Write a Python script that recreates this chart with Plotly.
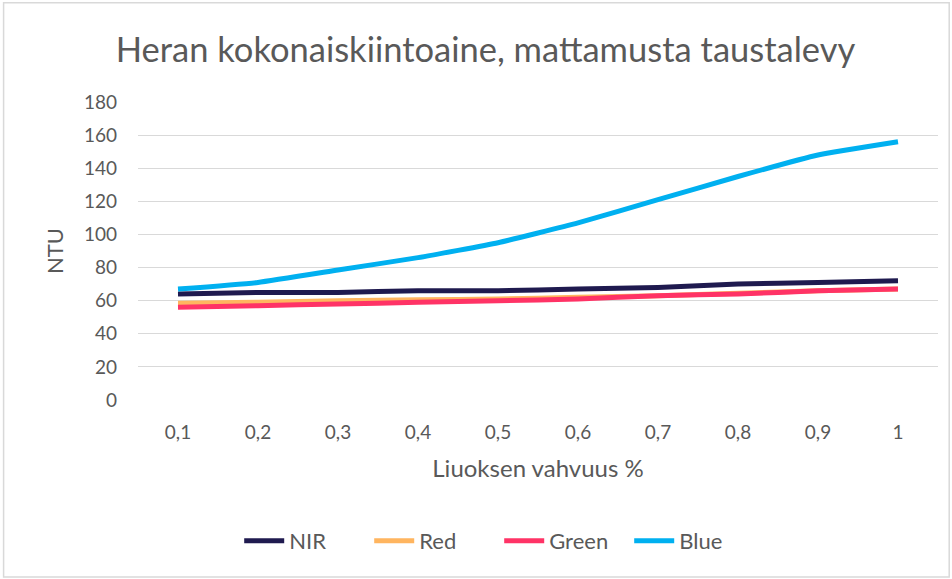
import plotly.graph_objects as go

concentrations = ["0,1", "0,2", "0,3", "0,4", "0,5", "0,6", "0,7", "0,8", "0,9", "1"]
nir = [64, 65, 65, 66, 66, 67, 68, 70, 71, 72]
red = [58.5, 59, 60, 60.5, 61, 62, 63, 64.5, 66, 67]
green = [56, 57, 58, 59, 60, 61, 63, 64, 66, 67]
blue = [67, 71, 78.5, 86, 95, 107, 121, 135, 148, 156]

series = [
    ("NIR", nir, "#1F1A4F"),
    ("Red", red, "#FFB55F"),
    ("Green", green, "#FF3366"),
    ("Blue", blue, "#00B0F0"),
]

fig = go.Figure()
for name, vals, color in series:
    fig.add_trace(go.Scatter(
        x=concentrations, y=vals, name=name, mode="lines",
        line=dict(color=color, width=5, shape="spline", smoothing=0.4),
    ))

# plot area: x 138..938, y 102..400
fig.update_layout(
    width=952, height=579,
    paper_bgcolor="#ffffff", plot_bgcolor="#ffffff",
    margin=dict(l=138, r=14, t=102, b=179),
    font=dict(family="Lato, Open Sans, sans-serif", size=19, color="#595959"),
    title=dict(text="Heran kokonaiskiintoaine, mattamusta taustalevy",
               x=0.51, xanchor="center", y=0.914, yanchor="middle",
               font=dict(size=34.5, color="#595959")),
    legend=dict(orientation="h", x=0.4515, xanchor="center", y=-0.473, yanchor="middle",
                font=dict(size=22, color="#595959"), itemwidth=40,
                entrywidth=75, entrywidthmode="pixels"),
    shapes=[dict(type="rect", xref="paper", yref="paper", x0=-0.168, x1=1.014,
                 y0=-0.594, y1=1.333, line=dict(color="#D9D9D9", width=1.5))],
    showlegend=True,
)
fig.update_xaxes(range=[-0.5, 9.5], showgrid=False, showline=False, ticks="",
                 ticklabelstandoff=19,
                 title=dict(text="Liuoksen vahvuus %", font=dict(size=24), standoff=18),
                 tickfont=dict(size=19))
fig.update_yaxes(range=[0, 180], dtick=20, showgrid=True, gridcolor="#D9D9D9", gridwidth=1.3,
                 zeroline=False, ticklabelstandoff=20,
                 title=dict(text="NTU", font=dict(size=22), standoff=14),
                 tickfont=dict(size=19))

fig.write_html("out.html", config={"displayModeBar": False},
               post_script="document.body.style.margin = '0';")
